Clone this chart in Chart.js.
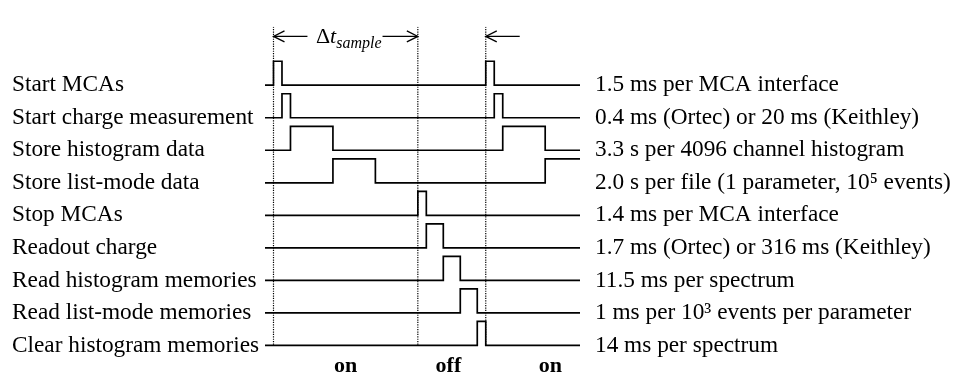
<!DOCTYPE html>
<html><head><meta charset="utf-8">
<script src="https://cdn.jsdelivr.net/npm/chart.js@4"></script>
<style>html,body{margin:0;padding:0;background:#fff;}</style>
</head><body>
<canvas id="c" width="957" height="378"></canvas>
<script>
// ---- data ----
const rowLabels = ['Start MCAs','Start charge measurement','Store histogram data','Store list-mode data','Stop MCAs','Readout charge','Read histogram memories','Read list-mode memories','Clear histogram memories'];
const rowNotes = ['1.5 ms per MCA interface','0.4 ms (Ortec) or 20 ms (Keithley)','3.3 s per 4096 channel histogram','2.0 s per file (1 parameter, 10\u2075 events)','1.4 ms per MCA interface','1.7 ms (Ortec) or 316 ms (Keithley)','11.5 ms per spectrum','1 ms per 10\u00b3 events per parameter','14 ms per spectrum'];
// active (high) intervals per row, in time units
const startMCAs      = [[0,1],[25,26]];
const startCharge    = [[1,2],[26,27]];
const storeHistogram = [[2,7],[27,32]];
const storeListMode  = [[7,12],[32,36.1]];
const stopMCAs       = [[17,18]];
const readoutCharge  = [[18,20]];
const readHistogram  = [[20,22]];
const readListMode   = [[22,24]];
const clearHistogram = [[24,25]];
const timeStart = -1, timeEnd = 36.1;
const markerTimes = [0,17,25];
const phaseLabels = ['on','off','on'];
const phaseCenters = [8.5,20.6,32.6];
const sampleArrow = [0,17];     // Δt_sample span
const nextArrow = [25,29];      // next cycle arrow

// ---- build ----
const rows = [startMCAs,startCharge,storeHistogram,storeListMode,stopMCAs,readoutCharge,readHistogram,readListMode,clearHistogram];
const PULSE = 0.737;
function trace(intervals,row){
  const pts=[{x:timeStart,y:row}];
  for(const [a,b] of intervals){
    pts.push({x:a,y:row},{x:a,y:row-PULSE},{x:Math.min(b,timeEnd),y:row-PULSE});
    if(b<timeEnd) pts.push({x:b,y:row});
  }
  if(pts[pts.length-1].x<timeEnd) pts.push({x:timeEnd,y:row});
  return pts;
}
const datasets = rows.map((iv,i)=>({data:trace(iv,i),borderColor:'#000',borderWidth:1.7,pointRadius:0,tension:0,fill:false}));
markerTimes.forEach(t=>datasets.push({data:[{x:t,y:-1.8},{x:t,y:8}],borderColor:'#000',borderWidth:1.2,borderDash:[1.2,1.2],pointRadius:0,fill:false}));

const FONT='"Liberation Serif","Times New Roman",serif';
const annot={id:'annot',afterDatasetsDraw(chart){
  const {ctx,scales:{x,y}}=chart;
  const yy=y.getPixelForValue(-1.5);
  ctx.save();
  ctx.strokeStyle='#000';ctx.fillStyle='#000';ctx.lineWidth=1.3;
  function head(px,dir){ctx.beginPath();ctx.moveTo(px+dir*11,yy-5.5);ctx.lineTo(px,yy);ctx.lineTo(px+dir*11,yy+5.5);ctx.stroke();}
  function seg(a,b){ctx.beginPath();ctx.moveTo(a,yy);ctx.lineTo(b,yy);ctx.stroke();}
  const x0=x.getPixelForValue(sampleArrow[0]), x1=x.getPixelForValue(sampleArrow[1]);
  // text
  ctx.textBaseline='alphabetic';ctx.textAlign='left';
  let tx=x.getPixelForValue(5);
  ctx.font='22px '+FONT; ctx.fillText('\u0394',tx,yy+7); tx+=ctx.measureText('\u0394').width;
  ctx.font='italic 22px '+FONT; ctx.fillText('t',tx,yy+7); tx+=ctx.measureText('t').width;
  ctx.font='italic 16px '+FONT; ctx.fillText('sample',tx,yy+12); tx+=ctx.measureText('sample').width;
  seg(x0,x.getPixelForValue(4)); head(x0,1);
  seg(tx+1,x1); head(x1,-1);
  const n0=x.getPixelForValue(nextArrow[0]), n1=x.getPixelForValue(nextArrow[1]);
  seg(n0,n1); head(n0,1);
  ctx.restore();
}};

new Chart(document.getElementById('c'),{
  type:'line',
  data:{datasets},
  options:{
    responsive:false,animation:false,devicePixelRatio:1,
    layout:{padding:{top:13,left:12,right:0,bottom:0}},
    plugins:{legend:{display:false},tooltip:{enabled:false}},
    scales:{
      x:{type:'linear',min:timeStart,max:timeEnd,
        grid:{display:false,drawTicks:false},border:{display:false},
        afterBuildTicks:s=>{s.ticks=phaseCenters.map(v=>({value:v}));},
        afterFit:s=>{s.height=28;},
        ticks:{autoSkip:false,maxRotation:0,padding:3,color:'#000',font:{family:FONT,size:22,weight:'bold'},callback:(v,i)=>phaseLabels[i]}},
      y:{type:'linear',position:'left',reverse:true,min:-1.8,max:8.14,
        grid:{display:false,drawTicks:false},border:{display:false},
        afterBuildTicks:s=>{s.ticks=rowLabels.map((_,i)=>({value:i}));},
        afterFit:s=>{s.width=253;},
        ticks:{autoSkip:false,crossAlign:'far',color:'#000',font:{family:FONT,size:23.3,lineHeight:1},callback:(v,i)=>rowLabels[i]}},
      y2:{type:'linear',position:'right',reverse:true,min:-1.8,max:8.14,
        grid:{display:false,drawTicks:false},border:{display:false},
        afterBuildTicks:s=>{s.ticks=rowNotes.map((_,i)=>({value:i}));},
        afterFit:s=>{s.width=377;},
        ticks:{autoSkip:false,crossAlign:'near',padding:15,color:'#000',font:{family:FONT,size:23.3,lineHeight:1},callback:(v,i)=>rowNotes[i]}}
    }
  },
  plugins:[annot]
});
</script>
</body></html>
